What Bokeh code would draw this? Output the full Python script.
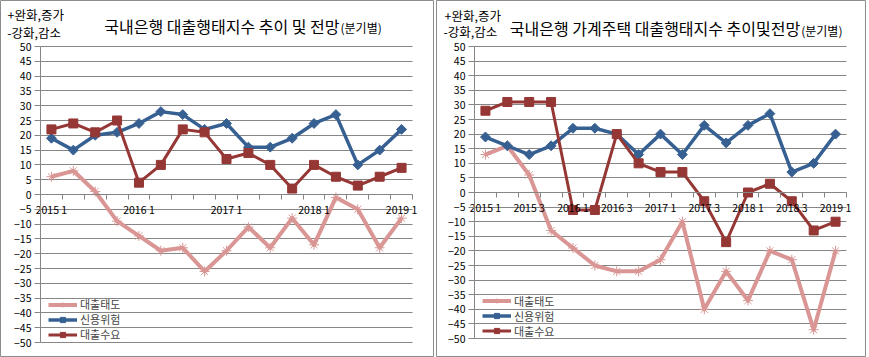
import numpy as np
from bokeh.plotting import figure
from bokeh.models import FixedTicker, Legend, LegendItem
from bokeh.layouts import row
from bokeh.core.properties import value
from bokeh.embed import file_html
from bokeh.resources import INLINE

# ---------------- data ----------------
quarters = ["2015 1", "2015 2", "2015 3", "2015 4",
            "2016 1", "2016 2", "2016 3", "2016 4",
            "2017 1", "2017 2", "2017 3", "2017 4",
            "2018 1", "2018 2", "2018 3", "2018 4",
            "2019 1"]
series_names = ["대출태도", "신용위험", "대출수요"]

left_attitude = [6, 8, 1, -9, -14, -19, -18, -26, -19, -11, -18, -8, -17, -1, -5, -18, -8]
left_credit = [19, 15, 20, 21, 24, 28, 27, 22, 24, 16, 16, 19, 24, 27, 10, 15, 22]
left_demand = [22, 24, 21, 25, 4, 10, 22, 21, 12, 14, 10, 2, 10, 6, 3, 6, 9]
left_tick_labels = ["2015 1", "2016 1", "2017 1", "2018 1", "2019 1"]

right_attitude = [13, 16, 6, -13, -19, -25, -27, -27, -23, -10, -40, -27, -37, -20, -23, -47, -20]
right_credit = [19, 16, 13, 16, 22, 22, 20, 13, 20, 13, 23, 17, 23, 27, 7, 10, 20]
right_demand = [28, 31, 31, 31, -6, -6, 20, 10, 7, 7, -3, -17, 0, 3, -3, -13, -10]
right_tick_labels = ["2015 1", "2015 3", "2016 1", "2016 3", "2017 1",
                     "2017 3", "2018 1", "2018 3", "2019 1"]

y_ticks = list(range(-50, 51, 5))

left_title = "국내은행 대출행태지수 추이 및 전망"
right_title = "국내은행 가계주택 대출행태지수 추이및전망"
sub_title = "(분기별)"
plus_text = "+완화,증가"
minus_text = "-강화,감소"

# ---------------- style ----------------
FONT = "Noto Sans CJK KR"
PINK = "#D99694"
BLUE = "#376092"
RED = "#953735"
GRID = "#868686"
BORDER = "#8C8C8C"
H = 357


def make_panel(W, box, attitude, credit, demand, tick_labels, title,
               title_pos, sub_pos, plus_pos, minus_pos, legend_ys):
    fl, fr, ft, fb = box           # plot area in panel pixels
    n = len(quarters)
    x0, x1 = -0.5, n - 0.5
    y0, y1 = y_ticks[0], y_ticks[-1]
    kx = (x1 - x0) / (fr - fl)     # data units per pixel
    ky = (y1 - y0) / (fb - ft)

    def X(px):
        return x0 + (px - fl) * kx

    def Y(py):
        return y1 - (py - ft) * ky

    p = figure(width=W, height=H, x_range=(X(0), X(W)), y_range=(Y(H), Y(0)),
               output_backend="svg", toolbar_location=None,
               min_border=0, min_border_left=0, min_border_right=0,
               min_border_top=0, min_border_bottom=0)
    p.outline_line_color = BORDER
    p.outline_line_width = 1

    ay = p.yaxis[0]
    ay.fixed_location = x0
    ay.bounds = (y0, y1)
    ay.ticker = FixedTicker(ticks=y_ticks)
    ay.axis_line_color = GRID
    ay.major_tick_line_color = GRID
    ay.major_tick_out = 6
    ay.major_tick_in = 0
    ay.minor_tick_line_color = None
    ay.major_label_standoff = 3
    ay.major_label_text_font = FONT
    ay.major_label_text_font_size = "10.5px"
    ay.major_label_text_color = "black"

    xs = list(range(n))
    ax = p.xaxis[0]
    ax.fixed_location = 0
    ax.bounds = (x0, x1)
    ax.ticker = FixedTicker(ticks=[quarters.index(t) for t in tick_labels],
                            minor_ticks=[i - 0.5 for i in range(n + 1)])
    ax.major_label_overrides = {quarters.index(t): t for t in tick_labels}
    ax.axis_line_color = GRID
    ax.major_tick_line_color = None
    ax.major_tick_out = 0
    ax.major_tick_in = 0
    ax.minor_tick_line_color = GRID
    ax.minor_tick_out = 5
    ax.minor_tick_in = 0
    ax.major_label_standoff = 2
    ax.major_label_text_font = FONT
    ax.major_label_text_font_size = "10.5px"
    ax.major_label_text_color = "black"

    p.xgrid.visible = False
    g = p.ygrid[0]
    g.ticker = FixedTicker(ticks=y_ticks)
    g.grid_line_color = GRID
    g.grid_line_width = 1
    try:
        g.cross_bounds = (x0, x1)
    except AttributeError:
        g.visible = False
        p.segment(x0=[x0] * len(y_ticks), y0=y_ticks, x1=[x1] * len(y_ticks),
                  y1=y_ticks, line_color=GRID, line_width=1)

    r1l = p.line(xs, attitude, line_color=PINK, line_width=4, line_join="round")
    r1s = p.scatter(xs, attitude, marker="asterisk", size=10, line_color=PINK,
                    line_width=1)
    r2l = p.line(xs, credit, line_color=BLUE, line_width=3.5, line_join="round")
    r2s = p.scatter(xs, credit, marker="square", angle=np.pi / 4, size=7,
                    fill_color=BLUE, line_color=BLUE)
    r3l = p.line(xs, demand, line_color=RED, line_width=3, line_join="round")
    r3s = p.scatter(xs, demand, marker="square", size=9, fill_color=RED,
                    line_color=RED)

    rends = [[r1l, r1s], [r2l, r2s], [r3l, r3s]]
    for name, rr, ly in zip(series_names, rends, legend_ys):
        legend = Legend(items=[LegendItem(label=name, renderers=rr)],
                        location=(fl + 8, H - fb + ly), background_fill_alpha=0,
                        border_line_color=None,
                        label_text_font=FONT, label_text_font_size="11px",
                        glyph_width=29, glyph_height=13, label_height=13,
                        spacing=0, padding=0, margin=0, label_standoff=3)
        p.add_layout(legend)

    # header texts
    p.text(x=[X(plus_pos[0])], y=[Y(plus_pos[1])], text=[plus_text],
           text_align="left", text_baseline="middle", text_font=value(FONT),
           text_font_size="12.5px", text_color="black")
    p.text(x=[X(minus_pos[0])], y=[Y(minus_pos[1])], text=[minus_text],
           text_align="left", text_baseline="middle", text_font=value(FONT),
           text_font_size="12.5px", text_color="black")
    p.text(x=[X(sub_pos[0] - 1)], y=[Y(title_pos[1])], text=[title],
           text_align="right", text_baseline="middle", text_font=value(FONT),
           text_font_size="16px", text_color="black")
    p.text(x=[X(sub_pos[0])], y=[Y(sub_pos[1])], text=[sub_title],
           text_align="left", text_baseline="middle", text_font=value(FONT),
           text_font_size="12px", text_color="black")
    return p


p1 = make_panel(434, (40, 412, 46, 342), left_attitude, left_credit, left_demand,
                left_tick_labels, left_title, (100, 25), (340, 26.7),
                (7, 13.8), (6.7, 32), (30, 15, 0))
p2 = make_panel(430, (38, 410, 46, 338), right_attitude, right_credit, right_demand,
                right_tick_labels, right_title, (69.7, 27.8), (364.7, 30),
                (8, 15), (7, 31), (29.5, 14.5, -0.5))

layout = row(p1, p2, spacing=2)

open("out.html", "w").write(file_html(layout, INLINE))
